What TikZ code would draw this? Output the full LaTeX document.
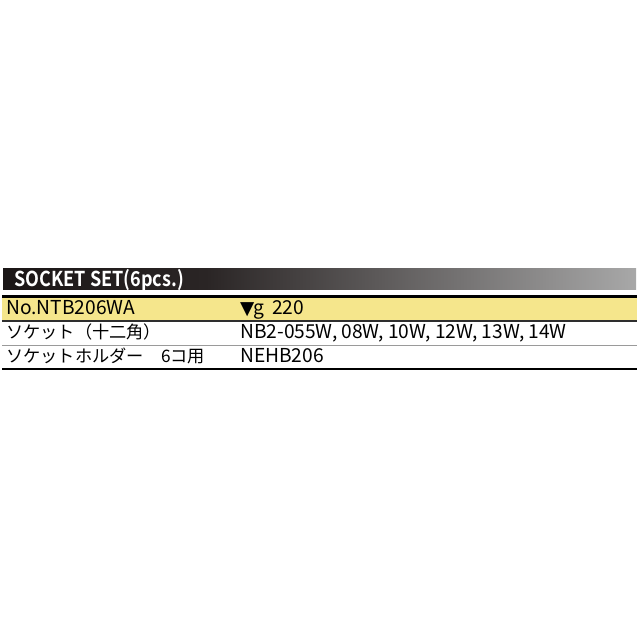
\documentclass[tikz,border=0pt]{standalone}
\usepackage{fontspec}
\setmainfont{Noto Sans CJK JP}
\newfontfamily\hdrfont[FakeStretch=0.88]{Noto Sans CJK JP Bold}
\newfontfamily\latfont{Noto Sans CJK JP}
\newfontfamily\symfont{DejaVu Sans}
\definecolor{hdA}{HTML}{1B1616}
\definecolor{hdB}{HTML}{2A2525}
\definecolor{hdC}{HTML}{A8A8A8}
\definecolor{rowyellow}{HTML}{F5E68C}
\definecolor{midline}{HTML}{2E2E2E}
\definecolor{thinline}{HTML}{9A9A9A}
\pgfdeclarehorizontalshading{hdrshade}{100bp}{color(0bp)=(hdA); color(25bp)=(hdA); color(41bp)=(hdB); color(75bp)=(hdC); color(100bp)=(hdC)}
\newcommand{\cm}{,\hspace{4bp}}
\begin{document}
\begin{tikzpicture}[x=1bp,y=-1bp,
  jcell/.style={anchor=base west,inner sep=0pt,font=\fontsize{17.2bp}{18bp}\selectfont,text=black},
  lcell/.style={anchor=base west,inner sep=0pt,font=\latfont\fontsize{19.2bp}{19bp}\selectfont,text=black},
  hdrtext/.style={anchor=base west,inner sep=0pt,font=\hdrfont\fontsize{20.5bp}{21bp}\selectfont,text=white},
  thickrule/.style={line width=2.2bp,black},
  midrule/.style={line width=1.4bp,midline},
  thinrule/.style={line width=1bp,thinline}]
\useasboundingbox[fill=white] (0,0) rectangle (640,640);
% header
\shade[shading=hdrshade] (3,268) rectangle (636,289);
\node[hdrtext] (title) at (14,286) {SOCKET SET(6pcs.)};
% yellow row
\fill[rowyellow] (2,297) rectangle (637,321);
% rules
\coordinate (r1a) at (2,296.5); \coordinate (r1b) at (637,296.5);
\coordinate (r2a) at (2,321); \coordinate (r2b) at (637,321);
\coordinate (r3a) at (2,345); \coordinate (r3b) at (637,345);
\coordinate (r4a) at (2,369); \coordinate (r4b) at (637,369);
\draw[thickrule] (r1a) -- (r1b);
\draw[midrule] (r2a) -- (r2b);
\draw[thinrule] (r3a) -- (r3b);
\draw[thickrule] (r4a) -- (r4b);
% cells
\node[lcell] (a1) at (6,314) {No.NTB206WA};
\node[lcell] (b1) at (240,314) {{\symfont\fontsize{18.5bp}{18bp}\selectfont ▼}\kern-1bp g\hspace{8bp}220};
\node[jcell] (a2) at (6,338) {ソケット（十二角）};
\node[lcell] (b2) at (240,338) {NB2-055W\cm 08W\cm 10W\cm 12W\cm 13W\cm 14W};
\node[jcell] (a3) at (6,362) {ソケットホルダー　6コ用};
\node[lcell] (b3) at (240,362) {NEHB206};
\end{tikzpicture}
\end{document}
